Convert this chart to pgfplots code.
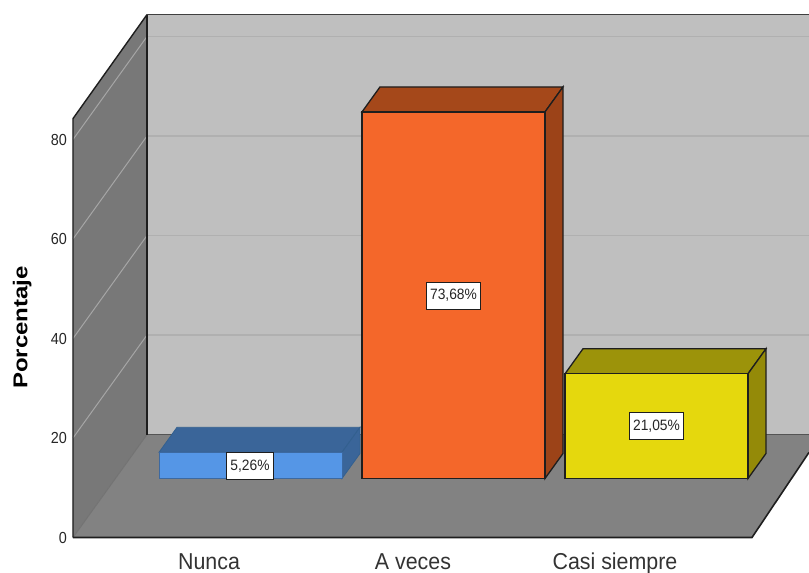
\documentclass[border=0pt]{standalone}
\usepackage{fontspec}
\usepackage{graphicx}
\setmainfont{Liberation Sans}
\usepackage{pgfplots}
\pgfplotsset{compat=1.18}
\definecolor{wallS}{HTML}{787878}
\definecolor{wallB}{HTML}{BFBFBF}
\definecolor{floorC}{HTML}{828282}
\definecolor{gridB}{HTML}{B0B0B0}
\definecolor{gridS}{HTML}{A6A6A6}
\definecolor{edge}{HTML}{1E1E1E}
\definecolor{blueF}{HTML}{5596E6}
\definecolor{blueT}{HTML}{3A6599}
\definecolor{blueE}{HTML}{33608F}
\definecolor{orF}{HTML}{F4672A}
\definecolor{orT}{HTML}{A5481A}
\definecolor{orS}{HTML}{9C4318}
\definecolor{yeF}{HTML}{E5D80D}
\definecolor{yeT}{HTML}{9C930A}
\definecolor{yeS}{HTML}{948A08}
\begin{document}
\begin{tikzpicture}[x=1pt,y=1pt]
\path[use as bounding box] (0,0) rectangle (809,573);
\begin{axis}[
  at={(73pt,35.5pt)}, anchor=origin,
  scale only axis, width=736pt, height=537pt,
  xmin=73, xmax=809, ymin=0, ymax=107.94,
  clip=false,
  axis line style={draw=none},
  tick style={draw=none},
  xtick={209,413,615},
  xticklabels={Nunca,A veces,Casi siempre},
  ytick={0,20,40,60,80},
  /pgf/number format/assume math mode=true,
  yticklabel style={font=\fontsize{16}{16}\selectfont, anchor=east, xshift=-3pt, xscale=0.9, text=black!85},
  xticklabel style={font=\fontsize{23}{23}\selectfont, anchor=base, yshift=-32pt, xscale=0.93, text=black!80},
  ylabel={\scalebox{1.2}[1]{\fontsize{20}{20}\selectfont\bfseries Porcentaje}},
  every axis y label/.style={at={(rel axis cs:-0.069,0.391)},rotate=90,anchor=center},
]
% back wall
\addplot[fill=wallB,draw=none] coordinates {(147,20.7) (809,20.7) (809,105.1) (147,105.1)} -- cycle;
\addplot[gridB,line width=1.2pt] coordinates {(147,40.7) (809,40.7)};
\addplot[gridB,line width=1.2pt] coordinates {(147,60.7) (809,60.7)};
\addplot[gridB,line width=1.2pt] coordinates {(147,80.7) (809,80.7)};
\addplot[gridB,line width=1.2pt] coordinates {(147,100.7) (809,100.7)};
% side wall
\addplot[fill=wallS,draw=none] coordinates {(73,0) (147,20.7) (147,105.1) (73,84.2)} -- cycle;
\addplot[gridS,line width=1pt] coordinates {(73,20) (147,40.7)};
\addplot[gridS,line width=1pt] coordinates {(73,40) (147,60.7)};
\addplot[gridS,line width=1pt] coordinates {(73,60) (147,80.7)};
\addplot[gridS,line width=1pt] coordinates {(73,80) (147,100.7)};
% floor
\addplot[fill=floorC,draw=none] coordinates {(73,0) (752,0) (809,17.1) (809,20.7) (147,20.7)} -- cycle;
\addplot[wallS!70!black,line width=1pt] coordinates {(147,20.7) (809,20.7)};
\addplot[black!55,line width=1pt] coordinates {(73,0) (147,20.7)};
% outlines
\addplot[edge,line width=1.6pt] coordinates {(73,0) (752,0) (809,17.1)};
\addplot[edge,line width=1.4pt] coordinates {(73,0) (73,84.2) (147,105.1)};
\addplot[edge,line width=1.4pt] coordinates {(147,20.7) (147,105.1)};
\addplot[black!75,line width=1.6pt] coordinates {(147,105.1) (809,105.1)};
% blue bar, 5.26
\addplot[fill=blueT,draw=blueE,line width=.8pt] coordinates {(159,17.12) (177,22.15) (360,22.15) (342,17.12)} -- cycle;
\addplot[fill=blueT,draw=blueE,line width=.8pt] coordinates {(342,11.86) (360,16.89) (360,22.15) (342,17.12)} -- cycle;
\addplot[fill=blueF,draw=blueF!70!black,line width=.6pt] coordinates {(159,11.86) (342,11.86) (342,17.12) (159,17.12)} -- cycle;
% orange bar, 73.68
\addplot[fill=orT,draw=edge,line width=1.3pt] coordinates {(362,85.54) (380,90.57) (563,90.57) (545,85.54)} -- cycle;
\addplot[fill=orS,draw=edge,line width=1.3pt] coordinates {(545,11.86) (563,16.89) (563,90.57) (545,85.54)} -- cycle;
\addplot[fill=orF,draw=edge,line width=1.3pt] coordinates {(362,11.86) (545,11.86) (545,85.54) (362,85.54)} -- cycle;
% yellow bar, 21.05
\addplot[fill=yeT,draw=edge,line width=1.3pt] coordinates {(565,32.91) (583,37.94) (766,37.94) (748,32.91)} -- cycle;
\addplot[fill=yeS,draw=edge,line width=1.3pt] coordinates {(748,11.86) (766,16.89) (766,37.94) (748,32.91)} -- cycle;
\addplot[fill=yeF,draw=edge,line width=1.3pt] coordinates {(565,11.86) (748,11.86) (748,32.91) (565,32.91)} -- cycle;
% value labels
\addplot[draw=none,mark=none,
  nodes near coords={\scalebox{.92}[1]{\pgfplotspointmeta}},
  point meta=explicit symbolic,
  every node near coord/.style={anchor=center,fill=white,draw=edge,line width=.9pt,
    inner ysep=0pt,inner xsep=4pt,minimum height=27pt,text=black!85,
    font=\fontsize{15}{15}\selectfont},
] coordinates {
  (250,14.4)[5,26\%]
  (453.5,48.6)[73,68\%]
  (656.5,22.4)[21,05\%]
};
\end{axis}
\end{tikzpicture}
\end{document}
